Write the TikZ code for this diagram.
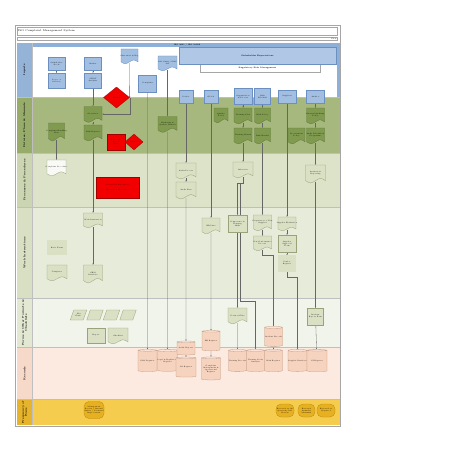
\documentclass[tikz,border=0pt]{standalone}
\usetikzlibrary{shapes.geometric,arrows.meta,calc}
\definecolor{frameC}{HTML}{A6A6A6}
\definecolor{labIn}{HTML}{95B3D7}
\definecolor{laneP}{HTML}{A6B87E}
\definecolor{labP}{HTML}{97AC6B}
\definecolor{laneR}{HTML}{DCE3C9}
\definecolor{labR}{HTML}{CCD5B1}
\definecolor{laneW}{HTML}{E7ECDA}
\definecolor{labW}{HTML}{D8DFC3}
\definecolor{laneF}{HTML}{F1F4EA}
\definecolor{labF}{HTML}{E2E8D2}
\definecolor{laneRec}{HTML}{FCEAE0}
\definecolor{labRec}{HTML}{F7D9C9}
\definecolor{laneFq}{HTML}{F6CC4E}
\definecolor{labFq}{HTML}{E6B42C}
\definecolor{hdrBlue}{HTML}{8DB0DA}
\definecolor{boxBlue}{HTML}{A2BEE0}
\definecolor{boxBlueB}{HTML}{6A8FC0}
\definecolor{olA}{HTML}{809B50}
\definecolor{olB}{HTML}{5E7838}
\definecolor{ltA}{HTML}{D9E0C3}
\definecolor{ltB}{HTML}{98A37A}
\definecolor{cylA}{HTML}{F6D3BE}
\definecolor{cylC}{HTML}{FAE3D5}
\definecolor{cylB}{HTML}{C39A83}
\definecolor{blobA}{HTML}{E6B020}
\definecolor{blobB}{HTML}{B88A10}
\definecolor{redA}{HTML}{F20000}
\definecolor{redB}{HTML}{A00000}
\pgfdeclarelayer{lanes}\pgfdeclarelayer{lines}\pgfdeclarelayer{shapes}
\pgfsetlayers{lanes,lines,shapes,main}
\newcommand{\docn}[7]{%
  \pgfmathsetmacro{\dL}{#2-#4/2}%
  \pgfmathsetmacro{\dR}{#2+#4/2}%
  \pgfmathsetmacro{\dT}{#3-#5/2}%
  \pgfmathsetmacro{\dB}{#3+#5/2-#5*0.08}%
  \pgfmathsetmacro{\dq}{#4*0.25}%
  \pgfmathsetmacro{\dv}{#5*0.18}%
  \begin{pgfonlayer}{shapes}
  \draw[#6] (\dL,\dT) -- (\dR,\dT) -- (\dR,\dB) .. controls +(-\dq,-\dv) and +(\dq,-\dv) .. (#2,\dB) .. controls +(-\dq,\dv) and +(\dq,\dv) .. (\dL,\dB) -- cycle;
  \end{pgfonlayer}
  \node[tx,minimum width=#4pt,minimum height=#5pt] (#1) at (#2,#3) {#7};%
}
\begin{document}
\begin{tikzpicture}[x=1pt,y=-1pt,
  tx/.style={font=\fontsize{1.7}{2}\selectfont, align=center, inner sep=0pt},
  lanelab/.style={font=\fontsize{2.6}{3}\selectfont\bfseries, align=center, rotate=90, inner sep=0pt},
  inbox/.style={tx, draw=boxBlueB, fill=boxBlue, line width=0.3pt},
  docin/.style={draw=boxBlueB, fill=boxBlue, line width=0.3pt},
  docol/.style={draw=olB, fill=olA, line width=0.3pt},
  doclt/.style={draw=ltB, fill=ltA, line width=0.3pt},
  docwh/.style={draw=ltB, fill=white!85!ltA, line width=0.3pt},
  ltbox/.style={tx, draw=ltB, fill=ltA, line width=0.3pt},
  redbox/.style={tx, draw=redB, fill=redA, text=black!70!red, line width=0.3pt},
  reddia/.style={tx, diamond, draw=redB, fill=redA, text=black!70!red, line width=0.3pt},
  para/.style={tx, rectangle, xslant=0.35, draw=ltB, fill=ltA, line width=0.3pt},
  cyl/.style={tx, cylinder, shape border rotate=90, aspect=0.12, draw=cylB, cylinder uses custom fill, cylinder body fill=cylA, cylinder end fill=cylC, line width=0.3pt},
  blob/.style={tx, draw=blobB, fill=blobA, rounded corners=5pt, line width=0.3pt},
  conn/.style={draw=black!60, line width=0.3pt, -{Stealth[length=1.4pt,width=1.2pt]}},
  sep/.style={draw=black!25, line width=0.3pt}]
\useasboundingbox (0,0) rectangle (452,452);
\begin{pgfonlayer}{lanes}
  \fill[white] (0,0) rectangle (452,452);
  \draw[frameC, fill=white, line width=0.4pt] (15,25) rectangle (340,426);
  \draw[frameC, line width=0.3pt] (17,27) rectangle (337,35);
  \draw[frameC, line width=0.3pt] (17,36.7) rectangle (337,40.5);
  % lanes
  \fill[labIn] (17,42.7) rectangle (32,97);
  \fill[hdrBlue] (32,42.7) rectangle (340,47.3);
  \fill[hdrBlue] (336.5,47.3) rectangle (340,97);
  \fill[laneP] (32,97) rectangle (340,153);  \fill[labP] (17,97) rectangle (32,153);
  \fill[laneR] (32,153) rectangle (340,207);  \fill[labR] (17,153) rectangle (32,207);
  \fill[laneW] (32,207) rectangle (340,298);  \fill[labW] (17,207) rectangle (32,298);
  \fill[laneF] (32,298) rectangle (340,347.5);  \fill[labF] (17,298) rectangle (32,347.5);
  \fill[laneRec] (32,347.5) rectangle (340,399.5);  \fill[labRec] (17,399.5) rectangle (32,347.5);
  \fill[laneFq] (32,399.5) rectangle (340,425);  \fill[labFq] (17,399.5) rectangle (32,425);
  \draw[sep] (17,97) -- (340,97) (17,153) -- (340,153) (17,207) -- (340,207) (17,298) -- (340,298) (17,347.5) -- (340,347.5) (17,399.5) -- (340,399.5);
  \draw[sep] (32,42.7) -- (32,425);
  % stakeholder boxes
  \draw[frameC, fill=white, line width=0.3pt] (200,61.7) rectangle (320,71.7);
  \draw[boxBlueB, fill=boxBlue!85!white, line width=0.3pt] (179,47.3) rectangle (336,64);
\end{pgfonlayer}
% titles
\node[tx, font=\fontsize{2.6}{3}\selectfont, anchor=west] (title) at (18,31) {ISO Complaint Management System};
\node[tx, font=\fontsize{1.8}{2}\selectfont] (flow) at (334,39) {Flow};
\node[tx, font=\fontsize{1.8}{2}\selectfont\bfseries] (hdr) at (187,45) {ISO 9001 / ISO 10002};
\node[tx, font=\fontsize{1.9}{2}\selectfont\bfseries] (se1) at (257.5,56) {Stakeholder Expectations};
\node[tx, font=\fontsize{1.9}{2}\selectfont\bfseries] (rrm) at (257.5,68) {Regulatory Risk Management};
% lane labels
\node[lanelab] (lIn) at (24.5,69.8) {Inputs};
\node[lanelab] (lPo) at (24.5,125) {Policies, Plans \& Manuals};
\node[lanelab] (lPr) at (24.5,180) {Processes \& Procedures};
\node[lanelab] (lWi) at (24.5,252.5) {Work Instructions};
\node[lanelab] (lFo) at (24.5,322.7) {Forms \& Other Formats \&\\Checklists};
\node[lanelab] (lRe) at (24.5,373.5) {Records};
\node[lanelab] (lFq) at (24.5,412.2) {Frequency of\\Runs};
% inputs
\node[inbox, minimum width=17pt, minimum height=13pt] (sn1) at (56.5,63.5) {Stakeholder\\Needs};
\node[inbox, minimum width=17pt, minimum height=15pt] (sn2) at (56.5,80.5) {Scope of\\Services};
\node[inbox, minimum width=17pt, minimum height=13pt] (mk1) at (93,63.5) {Market};
\node[inbox, minimum width=17pt, minimum height=15pt] (mk2) at (93,80.5) {SWOT\\Analysis};
\docn{cr}{129.5}{56}{17}{14}{docin}{Customers \& Reg}
\node[inbox, minimum width=18pt, minimum height=17pt] (cp) at (147.5,83.5) {Complaint};
\docn{iso}{167.5}{63}{19}{14}{docin}{ISO 10002 / CMS\\Std}
\node[inbox, minimum width=14pt, minimum height=13pt] (ld) at (186,97) {Leader};
\node[inbox, minimum width=14pt, minimum height=13pt] (gl) at (211,97) {Global};
\node[inbox, minimum width=18pt, minimum height=16pt] (op) at (243,96.5) {Organisation\\\& Process};
\node[inbox, minimum width=16pt, minimum height=16pt] (rk) at (262.5,96.5) {Risk\\ISO 9001};
\node[inbox, minimum width=18pt, minimum height=13pt] (su) at (287,96.5) {Suppliers};
\node[inbox, minimum width=18pt, minimum height=13pt] (au) at (315.5,96.5) {Auditor};
% policies
\node[reddia, minimum width=26pt, minimum height=21pt] (d1) at (116.5,97.5) {Review};
\docn{ob}{93}{114}{18}{15}{docol}{Objectives}
\docn{rr}{93}{132.5}{18}{15}{docol}{Risk Register}
\docn{ccp}{56.5}{131.5}{16}{17}{docol}{Complaint Handling\\Plan}
\node[redbox, minimum width=18pt, minimum height=16pt] (rbox) at (116,142) {Corrective\\Action\\Plan};
\node[reddia, minimum width=18pt, minimum height=16pt] (d2) at (134,142) {Approve};
\docn{mq}{167.5}{124}{19}{15}{docol}{Marketing \&\\Quality Manual}
\docn{qp}{221}{115}{14}{14}{docol}{Quality\\Policy}
\docn{tp}{243}{115.5}{18}{15}{docol}{Training Plan}
\docn{tr}{243}{135.5}{18}{15}{docol}{Training Matrix}
\docn{rp}{262.5}{115.5}{16}{15}{docol}{Risk Policy}
\docn{rm}{262.5}{135.5}{16}{15}{docol}{Risk Manual}
\docn{pp}{296.5}{135.5}{17}{15}{docol}{Procurement\\Policy}
\docn{ia}{315.5}{115.5}{18}{15}{docol}{Internal Auditing\\Policy}
\docn{ia2}{315.5}{135.5}{18}{15}{docol}{Audit Schedule \&\\Programme}
% processes
\docn{cpr}{56.5}{167.5}{19}{15}{docwh}{Complaint Procedure}
\node[redbox, minimum width=43pt, minimum height=21pt] (redr) at (117.5,187.5) {Complaint Resolution\\[3pt]Escalation Procedure};
\docn{ap}{186}{170.5}{20}{15}{doclt}{Audit Process}
\docn{apl}{186}{190}{20}{16}{doclt}{Audit Plan}
\docn{ind}{243}{169.5}{20}{15}{doclt}{Induction}
\docn{ar}{315.5}{173.5}{20}{17}{doclt}{Analysis \&\\Reporting}
% work instructions
\docn{wi1}{93}{220}{19}{14}{doclt}{Work Instruction}
\docn{wi2}{93}{273.5}{19}{17}{doclt}{CRM\\Database}
\node[ltbox, double=ltA, double distance=0.6pt, minimum width=19pt, minimum height=14pt] (rf) at (57,247.5) {Refer Forms};
\docn{td}{57}{272.5}{20}{15}{doclt}{Templates}
\docn{hr}{211}{225.5}{18}{15}{doclt}{HR Lists}
\node[ltbox, minimum width=19pt, minimum height=17pt] (cts) at (237.5,223.5) {Competence \&\\Training\\Skills};
\docn{pns}{262.5}{222.5}{18}{15}{doclt}{Preparation of New\\Supplier}
\docn{ncp}{262.5}{243}{18}{14}{doclt}{Non-Conformance\\Process}
\docn{sev}{287}{223.5}{18}{13}{doclt}{Supplier Evaluation}
\node[ltbox, minimum width=18pt, minimum height=17pt] (saf) at (287,243.5) {Supplier\\Approval\\Form};
\node[ltbox, double=ltA, double distance=0.6pt, minimum width=17pt, minimum height=16pt] (vr) at (287,263.5) {Vendor\\Register};
% forms
\node[para, minimum width=13pt, minimum height=10pt] (pa1) at (78.5,315) {Fax\\Form};
\node[para, minimum width=13pt, minimum height=10pt] (pa2) at (95,315) {};
\node[para, minimum width=13pt, minimum height=10pt] (pa3) at (111.5,315) {};
\node[para, minimum width=13pt, minimum height=10pt] (pa4) at (128,315) {};
\node[ltbox, minimum width=18pt, minimum height=15pt] (rep) at (96,335.5) {Report};
\docn{chk}{118}{335.5}{20}{15}{doclt}{Checklist}
\docn{pf}{237.5}{315.5}{19}{15}{doclt}{Position Files}
\node[ltbox, minimum width=16pt, minimum height=17pt] (irf) at (315.5,316.5) {Incident\\Report Form};
% records
\node[cyl, minimum width=19pt, minimum height=22pt] (cms) at (147.5,361) {CMS Register};
\node[cyl, minimum width=20pt, minimum height=22pt] (lrr) at (167.5,361) {Legal \& Regulatory\\Register};
\node[cyl, minimum width=18pt, minimum height=14pt] (aur) at (186,348.5) {Audit Reports};
\node[cyl, minimum width=20pt, minimum height=20pt] (car) at (186,367.5) {CA Register};
\node[cyl, minimum width=18pt, minimum height=20pt] (hrr) at (211,341) {HR Register};
\node[cyl, minimum width=19pt, minimum height=23pt] (cmr) at (211,369) {Complaint\\Management \&\\Operational\\Register};
\node[cyl, minimum width=18pt, minimum height=22pt] (trr) at (237.5,361) {Training Records};
\node[cyl, minimum width=18pt, minimum height=22pt] (tna) at (255.5,361) {Training Needs\\Analysis};
\node[cyl, minimum width=18pt, minimum height=20pt] (inr) at (273.5,337) {Incident Records};
\node[cyl, minimum width=18pt, minimum height=22pt] (rkr) at (273.5,361) {Risk Register};
\node[cyl, minimum width=19pt, minimum height=22pt] (sdb) at (297.5,361) {Supplier Database};
\node[cyl, minimum width=20pt, minimum height=22pt] (cir) at (317,361) {CI Register};
% frequency
\node[blob, minimum width=20pt, minimum height=17pt] (mr) at (94,410) {Management\\Review / Internal\\Audits / Continual\\Improvement};
\node[blob, minimum width=18pt, minimum height=13pt] (f1) at (285,410.5) {Reviewed at the\\Quarterly ISO\\Review};
\node[blob, minimum width=17pt, minimum height=13pt] (f2) at (306.5,410.5) {Reviewed\\Annually\\Minimum};
\node[blob, minimum width=18pt, minimum height=13pt] (f3) at (326,410.5) {Reviewed as\\Required};
% connectors
\begin{pgfonlayer}{lines}
  \draw[conn] (sn1) -- (sn2);
  \draw[conn] (mk1) -- (mk2);
  \draw[conn] (mk2) -- (ob);
  \draw[conn] (ob) -- (rr);
  \draw[conn] (rr) -- (wi1);
  \draw[conn] (wi1) -- (wi2);
  \draw[conn] (cr.south) -- (d1.east);
  \draw[conn] (d1.east) |- (ob.east);
  \draw[conn] (rbox) -- (d2);
  \draw[conn] (cp) -- (cms);
  \draw[conn] (iso) -- (mq);
  \draw[conn] (mq) -- (lrr);
  \draw[conn] (ccp) -- (cpr);
  \draw[conn] (ld) -- (ap);
  \draw[conn] (ap) -- (apl);
  \draw[conn] (apl) -- (aur);
  \draw[conn] (aur) -- (car);
  \draw[conn] (gl) -- (hr);
  \draw[conn] (hr) -- (hrr);
  \draw[conn] (hrr) -- (cmr);
  \draw[conn] (op) -- (tp);
  \draw[conn] (tp) -- (tr);
  \draw[conn] (tr) -- (ind);
  \draw[conn] (ind.south) -- ++(0,6) -| (cts.north);
  \draw[conn] (ind.south) -- ++(0,6) -- ++(-2.5,0) -- ++(0,118) -| (tna.north);
  \draw[conn] (cts) -- (pf);
  \draw[conn] (pf) -- (trr);
  \draw[conn] (rk) -- (rp);
  \draw[conn] (rp) -- (rm);
  \draw[conn] (rm) -- (pns);
  \draw[conn] (pns) -- (ncp);
  \draw[conn] (ncp.south) -- ++(0,5) -| (inr.north);
  \draw[conn] (inr) -- (rkr);
  \draw[conn] (su) -- (sev);
  \draw[conn] (sev) -- (saf);
  \draw[conn] (saf) -- (vr);
  \draw[conn] (vr.south) -- ++(0,5) -| (sdb.north);
  \draw[conn] (au) -- (ia);
  \draw[conn] (ia) -- (ia2);
  \draw[conn] (ia2) -- (ar);
  \draw[conn] (ar) -- (irf);
  \draw[conn] (irf) -- (cir);
\end{pgfonlayer}
\end{tikzpicture}
\end{document}
